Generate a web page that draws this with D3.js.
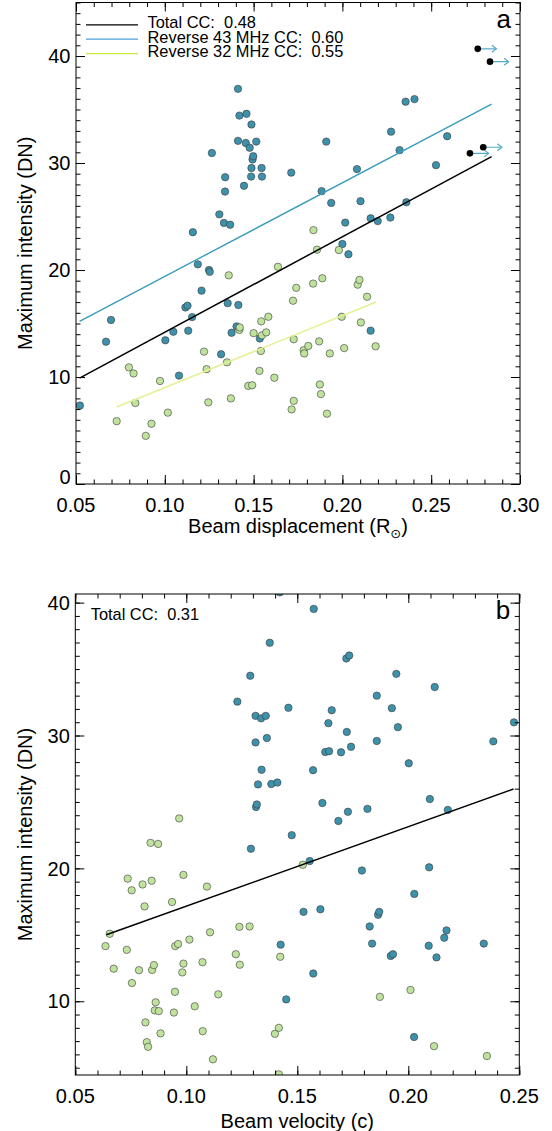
<!DOCTYPE html>
<html>
<head>
<meta charset="utf-8">
<script src="https://cdn.jsdelivr.net/npm/d3@7"></script>
<style>
  body { margin: 0; background: #fff; }
  svg text { font-family: "Liberation Sans", Arial, Helvetica, sans-serif; white-space: pre; }
</style>
</head>
<body>
<script>
// ---- panel a : beam displacement vs maximum intensity
const aBlue = [[0.0522,7.33],[0.0669,13.3],[0.0697,15.33],[0.1003,13.43],[0.1048,14.23],[0.108,10.13],[0.1116,16.5],[0.1128,16.67],[0.1132,14.33],[0.1154,15.6],[0.1158,23.53],[0.1186,20.53],[0.1207,18.07],[0.1249,20.0],[0.1253,19.83],[0.1265,30.93],[0.1307,25.2],[0.1317,12.13],[0.1333,24.4],[0.134,28.67],[0.1339,27.33],[0.1354,16.9],[0.1368,24.23],[0.1376,14.13],[0.1404,14.73],[0.1412,36.93],[0.1412,32.07],[0.1414,16.73],[0.142,34.43],[0.1446,27.87],[0.1456,31.87],[0.146,34.6],[0.1478,31.43],[0.1488,33.6],[0.1486,28.73],[0.1488,29.53],[0.1494,30.33],[0.1498,30.63],[0.1515,32.0],[0.1535,13.6],[0.1545,29.53],[0.1547,28.73],[0.1712,29.1],[0.1883,27.37],[0.1909,32.0],[0.1937,26.27],[0.2,22.43],[0.2016,24.43],[0.2034,21.47],[0.2082,29.43],[0.2102,26.43],[0.2159,24.83],[0.2159,14.33],[0.2199,24.57],[0.227,24.9],[0.2274,32.93],[0.2322,31.2],[0.2356,35.73],[0.236,26.33],[0.2406,35.97],[0.2527,29.8],[0.259,32.5]];
const aGreen = [[0.0729,5.87],[0.0798,10.9],[0.0824,10.33],[0.0834,7.57],[0.0893,4.5],[0.0925,5.63],[0.0973,9.63],[0.1017,6.67],[0.1221,12.37],[0.1235,10.73],[0.1245,7.63],[0.135,11.37],[0.136,19.5],[0.1372,8.0],[0.142,14.4],[0.1422,14.63],[0.147,9.17],[0.1492,9.23],[0.15,14.1],[0.1533,10.57],[0.1541,12.43],[0.1543,15.2],[0.1547,13.9],[0.1571,14.17],[0.1583,15.63],[0.1617,9.93],[0.1637,20.3],[0.1714,6.97],[0.1722,17.13],[0.1726,7.77],[0.1726,13.53],[0.174,18.33],[0.1782,12.5],[0.1785,12.2],[0.1808,12.9],[0.1835,18.73],[0.1837,23.73],[0.1857,21.9],[0.1869,13.33],[0.1873,9.3],[0.1879,8.4],[0.1887,19.23],[0.1913,6.57],[0.1929,12.2],[0.198,21.87],[0.1996,15.63],[0.201,12.7],[0.2086,18.63],[0.2096,19.07],[0.2104,15.1],[0.2139,17.5],[0.2187,12.87]];
// lower limits (drawn black, with arrows)
const aBlack = [[0.2762,40.67],[0.2831,39.47],[0.2718,30.9],[0.2793,31.47]];
const aFitTotal = [[0.052,9.9],[0.284,30.6]];
const aFit43 = [[0.052,15.2],[0.284,35.5]];
const aFit32 = [[0.073,7.2],[0.219,17.0]];
const aLegend = ["Total CC:  0.48", "Reverse 43 MHz CC:  0.60", "Reverse 32 MHz CC:  0.55"];

// ---- panel b : beam velocity vs maximum intensity
const bBlue = [[0.1421,40.77],[0.1574,39.53],[0.1376,36.98],[0.1721,35.8],[0.1734,36.02],[0.1946,34.64],[0.1288,34.5],[0.2119,33.65],[0.1858,33.0],[0.123,32.55],[0.146,32.09],[0.1926,32.06],[0.1655,31.9],[0.1312,31.48],[0.1337,31.29],[0.1358,31.48],[0.2476,30.99],[0.164,30.93],[0.1953,30.63],[0.1723,30.27],[0.1363,29.81],[0.1858,29.59],[0.1312,29.48],[0.2383,29.56],[0.1742,29.15],[0.1626,28.76],[0.1643,28.82],[0.1697,28.74],[0.2002,27.91],[0.1339,27.42],[0.1571,27.39],[0.1323,26.32],[0.1383,26.35],[0.141,26.46],[0.1613,24.92],[0.2097,25.22],[0.1314,24.62],[0.1318,24.81],[0.1816,24.48],[0.1728,24.26],[0.2178,24.4],[0.1685,23.57],[0.1475,22.5],[0.1291,21.48],[0.1556,20.55],[0.1791,19.84],[0.2094,20.08],[0.2027,18.08],[0.1528,16.73],[0.1604,16.92],[0.1864,16.51],[0.1869,16.73],[0.1826,15.63],[0.2172,15.33],[0.2162,14.78],[0.1425,14.26],[0.1837,14.34],[0.2092,14.18],[0.234,14.34],[0.1921,13.41],[0.1931,13.54],[0.2127,13.3],[0.1572,12.09],[0.145,10.14],[0.2026,7.31]];
const bGreen = [[0.0636,14.15],[0.0655,15.08],[0.0673,12.45],[0.0732,13.87],[0.0736,19.23],[0.0754,18.35],[0.0755,11.37],[0.0787,12.34],[0.0803,18.79],[0.0812,17.14],[0.0816,8.41],[0.0822,6.92],[0.0828,6.57],[0.0839,21.92],[0.0844,19.07],[0.0846,12.36],[0.0854,12.72],[0.0862,9.92],[0.0858,9.31],[0.0876,9.26],[0.0873,21.84],[0.0884,7.58],[0.0936,17.47],[0.0944,9.15],[0.0949,10.71],[0.095,14.15],[0.0963,14.31],[0.0968,23.76],[0.0982,12.17],[0.0987,12.83],[0.0987,19.51],[0.1014,14.64],[0.1038,9.62],[0.1073,12.94],[0.1074,7.75],[0.1093,18.63],[0.1107,15.19],[0.112,5.63],[0.1144,10.52],[0.1223,13.54],[0.1239,15.6],[0.1241,12.75],[0.1285,15.63],[0.1399,7.55],[0.1417,8.0],[0.1423,13.35],[0.1417,4.5],[0.1525,20.27],[0.1872,10.33],[0.201,10.85],[0.2116,6.62],[0.2354,5.88]];
const bFitTotal = [[0.064,15.0],[0.2474,25.97]];
const bLegend = ["Total CC:  0.31"];

const blueFill = "#3d91aa", greenFill = "#bfe39d";

const svg = d3.select("body").append("svg").attr("width", 552).attr("height", 1131);

const drawPanel = (cfg) => {
	const x = d3.scaleLinear().domain(cfg.xDom).range([cfg.left, cfg.right]);
	const y = d3.scaleLinear().domain(cfg.yDom).range([cfg.bottom, cfg.top]);
	const g = svg.append("g");

	g.append("clipPath").attr("id", cfg.id + "-clip")
		.append("rect")
		.attr("x", cfg.left).attr("y", cfg.top)
		.attr("width", cfg.right - cfg.left).attr("height", cfg.bottom - cfg.top);

	const plot = g.append("g").attr("clip-path", "url(#" + cfg.id + "-clip)");

	// dots
	const dots = (data, fill, r) => plot.append("g").selectAll("circle")
		.data(data).enter().append("circle")
		.attr("cx", (d) => x(d[0])).attr("cy", (d) => y(d[1]))
		.attr("r", r).attr("fill", fill)
		.attr("stroke", "#3a3a3a").attr("stroke-width", 0.6);
	dots(cfg.blue, blueFill, 3.7);
	dots(cfg.green, greenFill, 3.7);

	// lower-limit arrows
	if (cfg.black) {
		const ar = plot.append("g").attr("stroke", "#56abc6").attr("stroke-width", 1.2).attr("fill", "none");
		cfg.black.forEach((d) => {
			const x0 = x(d[0]), yy = y(d[1]), x1 = x(d[0] + 0.0105);
			ar.append("line").attr("x1", x0).attr("x2", x1).attr("y1", yy).attr("y2", yy);
			ar.append("path").attr("d", "M" + (x1 - 4.5) + "," + (yy - 3.5) + "L" + x1 + "," + yy + "L" + (x1 - 4.5) + "," + (yy + 3.5));
		});
		dots(cfg.black, "#000", 3.3).attr("stroke", "none");
	}

	// fit lines
	const line = d3.line().x((d) => x(d[0])).y((d) => y(d[1]));
	cfg.fits.forEach((f) => {
		plot.append("path").attr("d", line(f.data)).attr("fill", "none")
			.attr("stroke", f.color).attr("stroke-width", f.width);
	});

	// ticks (inward, IDL style)
	const side = (axis, tr, vals, len) => g.append("g").attr("transform", tr)
		.call(axis.tickValues(vals).tickSize(-len).tickFormat(""))
		.call((s) => s.select(".domain").remove())
		.call((s) => s.selectAll("line").attr("stroke", "#000").attr("stroke-width", 1));
	[[cfg.xMajor, 9], [cfg.xMinor, 4.5]].forEach(([v, l]) => {
		side(d3.axisBottom(x), "translate(0," + cfg.bottom + ")", v, l);
		side(d3.axisTop(x), "translate(0," + cfg.top + ")", v, l);
	});
	[[cfg.yMajor, 9], [cfg.yMinor, 4.5]].forEach(([v, l]) => {
		side(d3.axisLeft(y), "translate(" + cfg.left + ",0)", v, l);
		side(d3.axisRight(y), "translate(" + cfg.right + ",0)", v, l);
	});

	g.append("rect")
		.attr("x", cfg.left).attr("y", cfg.top)
		.attr("width", cfg.right - cfg.left).attr("height", cfg.bottom - cfg.top)
		.attr("fill", "none").attr("stroke", "#000").attr("stroke-width", 1);

	// tick labels
	g.append("g").selectAll("text").data(cfg.xMajor).enter().append("text")
		.attr("x", (d) => x(d)).attr("y", cfg.bottom + 27.8)
		.attr("text-anchor", "middle").attr("font-size", 20)
		.text(d3.format(".2f"));
	g.append("g").selectAll("text").data(cfg.yMajor).enter().append("text")
		.attr("x", cfg.left - 5.5)
		.attr("y", (d) => Math.min(y(d), cfg.bottom - 7))
		.attr("dy", "0.36em")
		.attr("text-anchor", "end").attr("font-size", 20)
		.text(d3.format("d"));

	// axis titles
	const midY = (cfg.top + cfg.bottom) / 2;
	g.append("text")
		.attr("transform", "translate(32," + midY + ") rotate(-90)")
		.attr("text-anchor", "middle").attr("font-size", 20)
		.text("Maximum intensity (DN)");
	const xt = g.append("text")
		.attr("x", (cfg.left + cfg.right) / 2).attr("y", cfg.bottom + cfg.titleGap)
		.attr("text-anchor", "middle").attr("font-size", 20);
	cfg.xTitle.forEach((p) => {
		const t = xt.append("tspan").text(p.t);
		if (p.sub) t.attr("font-size", 13).attr("dy", 5).attr("font-family", "DejaVu Sans");
		if (p.after) t.attr("dy", -5);
	});

	// panel letter
	g.append("text").attr("x", cfg.right - 9).attr("y", cfg.top + 25)
		.attr("text-anchor", "end").attr("font-size", 26).text(cfg.letter);

	// legend
	cfg.legend.forEach((label, i) => {
		const by = cfg.top + 25.8 + i * 14.4;
		if (cfg.legendColors) {
			g.append("line").attr("x1", 86).attr("x2", 138)
				.attr("y1", by - 3.5).attr("y2", by - 3.5)
				.attr("stroke", cfg.legendColors[i]).attr("stroke-width", 1.2);
		}
		g.append("text").attr("x", cfg.legendX).attr("y", by)
			.attr("font-size", 16.4).attr("xml:space", "preserve").text(label);
	});
};

drawPanel({
	id: "a", letter: "a",
	left: 76, right: 520, top: 2.5, bottom: 484,
	xDom: [0.05, 0.30], yDom: [0, 45],
	xMajor: [0.05, 0.10, 0.15, 0.20, 0.25, 0.30], xMinor: d3.range(5, 31).map((d) => d / 100),
	yMajor: [0, 10, 20, 30, 40], yMinor: d3.range(0, 46),
	blue: aBlue, green: aGreen, black: aBlack,
	fits: [
		{ data: aFit43, color: "#3b9dbd", width: 1.4 },
		{ data: aFitTotal, color: "#000", width: 1.5 },
		{ data: aFit32, color: "#e6f093", width: 1.6 }
	],
	legend: aLegend, legendColors: ["#000", "#4aa2d9", "#c4ec3a"], legendX: 147.5,
	xTitle: [{ t: "Beam displacement (R" }, { t: "\u2299", sub: true }, { t: ")", after: true }],
	titleGap: 49
});

drawPanel({
	id: "b", letter: "b",
	left: 75.3, right: 519.3, top: 594, bottom: 1075,
	xDom: [0.05, 0.25], yDom: [4.45, 40.65],
	xMajor: [0.05, 0.10, 0.15, 0.20, 0.25], xMinor: d3.range(5, 26).map((d) => d / 100),
	yMajor: [10, 20, 30, 40], yMinor: d3.range(5, 41),
	blue: bBlue, green: bGreen,
	fits: [{ data: bFitTotal, color: "#000", width: 1.5 }],
	legend: bLegend, legendX: 90.7,
	xTitle: [{ t: "Beam velocity (c)" }],
	titleGap: 53
});
</script>
</body>
</html>
